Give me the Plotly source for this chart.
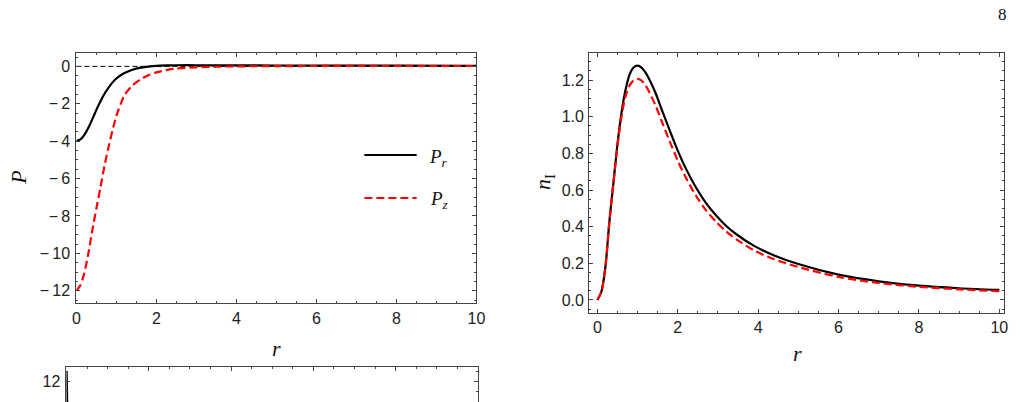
import plotly.graph_objects as go

# ---------------- data ----------------
r_P = [0, 0.1, 0.2, 0.3, 0.4, 0.5, 0.6, 0.7, 0.8, 0.9, 1.0, 1.2, 1.4, 1.6, 1.8,
       2.0, 2.25, 2.5, 3.0, 3.5, 4.0, 5.0, 6.0, 8.0, 10.0]
P_r = [-4.0, -3.91, -3.66, -3.28, -2.82, -2.33, -1.88, -1.48, -1.15, -0.87, -0.65,
       -0.36, -0.18, -0.07, -0.01, 0.03, 0.05, 0.06, 0.06, 0.055, 0.05, 0.045,
       0.04, 0.035, 0.03]
P_z = [-12.0, -11.7, -11.05, -10.0, -8.75, -7.6, -6.5, -5.35, -4.35, -3.45, -2.65,
       -1.55, -1.02, -0.7, -0.47, -0.32, -0.2, -0.12, -0.05, -0.02, -0.0, 0.01,
       0.02, 0.02, 0.02]
zero_x = [0, 10]
zero_y = [0, 0]

r_n = [0, 0.1, 0.2, 0.3, 0.4, 0.5, 0.6, 0.7, 0.8, 0.9, 1.0, 1.1, 1.2, 1.3, 1.45,
       1.6, 1.8, 2.0, 2.2, 2.45, 2.7, 2.95, 3.2, 3.45, 3.9, 4.4, 5.0, 6.0, 7.0,
       8.0, 9.0, 10.0]
n_black = [0, 0.045, 0.18, 0.43, 0.64, 0.85, 1.02, 1.145, 1.228, 1.268, 1.278,
           1.268, 1.24, 1.2, 1.128, 1.04, 0.925, 0.815, 0.718, 0.615, 0.53, 0.462,
           0.405, 0.36, 0.295, 0.243, 0.196, 0.138, 0.102, 0.078, 0.064, 0.055]
n_red = [0, 0.045, 0.18, 0.43, 0.64, 0.84, 1.0, 1.11, 1.17, 1.198, 1.206, 1.197,
         1.17, 1.13, 1.06, 0.975, 0.865, 0.76, 0.668, 0.57, 0.49, 0.428, 0.375,
         0.332, 0.27, 0.222, 0.18, 0.126, 0.093, 0.072, 0.058, 0.048]

# third (cut-off) panel
r_c = [0, 0.005, 0.01, 0.015]
c_vals = [12.48, 12.0, 11.5, 10.8]

# tick labels
P_ticks = [0, -2, -4, -6, -8, -10, -12]
P_ticktext = ["0", "−\u20092", "−\u20094", "−\u20096", "−\u20098", "−\u200910", "−\u200912"]
r_ticks = [0, 2, 4, 6, 8, 10]
r_ticktext = ["0", "2", "4", "6", "8", "10"]
n_ticks = [0.0, 0.2, 0.4, 0.6, 0.8, 1.0, 1.2]
n_ticktext = ["0.0", "0.2", "0.4", "0.6", "0.8", "1.0", "1.2"]
c_ticks = [12]
c_ticktext = ["12"]

# ---------------- styling ----------------
W, H = 1022, 402
FRAME = "#444444"
TICKFONT = dict(family="Liberation Sans", size=16, color="#222222")
LABELFONT = dict(family="Liberation Serif", size=22, color="#111111")

def px_x(p):
    return p / W

def px_y(p):
    return 1 - p / H

def axis(domain, rng, tickvals, ticktext, minor_dtick, standoff=4, **kw):
    d = dict(
        domain=domain, range=rng, showgrid=False, zeroline=False,
        showline=True, linecolor=FRAME, linewidth=1,
        mirror="ticks", ticks="inside", ticklen=4, tickwidth=1, tickcolor=FRAME,
        tickmode="array", tickvals=tickvals, ticktext=ticktext,
        tickfont=TICKFONT, ticklabelstandoff=standoff,
        minor=dict(tickmode="linear", tick0=0, dtick=minor_dtick, ticks="inside",
                   ticklen=2, tickwidth=1, tickcolor=FRAME, showgrid=False),
        fixedrange=True,
    )
    d.update(kw)
    return d

fig = go.Figure()

fig.add_trace(go.Scatter(x=zero_x, y=zero_y, mode="lines", xaxis="x", yaxis="y",
                         line=dict(color="black", width=1, dash="5px,3px"),
                         showlegend=False, hoverinfo="skip"))
fig.add_trace(go.Scatter(x=r_P, y=P_r, mode="lines", xaxis="x", yaxis="y",
                         line=dict(color="black", width=2.2, shape="spline", smoothing=0.6),
                         name="P_r", showlegend=False))
fig.add_trace(go.Scatter(x=r_P, y=P_z, mode="lines", xaxis="x", yaxis="y",
                         line=dict(color="#ff0000", width=2.2, dash="8px,4px",
                                   shape="spline", smoothing=0.6),
                         name="P_z", showlegend=False))

fig.add_trace(go.Scatter(x=r_n, y=n_black, mode="lines", xaxis="x2", yaxis="y2",
                         line=dict(color="black", width=2.2, shape="spline", smoothing=0.8),
                         showlegend=False))
fig.add_trace(go.Scatter(x=r_n, y=n_red, mode="lines", xaxis="x2", yaxis="y2",
                         line=dict(color="#ff0000", width=2.2, dash="8px,4px",
                                   shape="spline", smoothing=0.8),
                         showlegend=False))

fig.add_trace(go.Scatter(x=r_c, y=c_vals, mode="lines", xaxis="x3", yaxis="y3",
                         line=dict(color="black", width=2.5), showlegend=False))

layout = dict(
    width=W, height=H, autosize=False,
    margin=dict(l=0, r=0, t=0, b=0),
    paper_bgcolor="white", plot_bgcolor="white",
    xaxis=axis([px_x(73.3), px_x(478.5)], [0, 10], r_ticks, r_ticktext, 0.5,
               standoff=0, anchor="y"),
    yaxis=axis([px_y(303.3), px_y(52.7)], [-12.67, 0.73], P_ticks, P_ticktext, 0.5,
               standoff=2, anchor="x"),
    xaxis2=axis([px_x(592.7), px_x(1013)], [-0.204, 10.12], r_ticks, r_ticktext, 0.5,
                standoff=0, anchor="y2"),
    yaxis2=axis([px_y(313), px_y(52.7)], [-0.071, 1.349], n_ticks, n_ticktext, 0.05,
                standoff=1, anchor="x2"),
    xaxis3=axis([px_x(63.3), px_x(480)], [0, 10], r_ticks, r_ticktext, 0.5, anchor="y3",
                side="top", mirror=False, showticklabels=False),
    yaxis3=axis([0, px_y(367.3)], [10.985, 12.72], c_ticks, c_ticktext, 0.5,
                standoff=2, anchor="x3"),
    showlegend=False,
)
fig.update_layout(**layout)

SERIF = "Liberation Serif"
annotations = [
    dict(text="<i>P</i>", x=px_x(14), y=px_y(178), textangle=-90, font=LABELFONT),
    dict(text="<i>r</i>", x=px_x(276), y=px_y(348), font=LABELFONT),
    dict(text="<i>r</i>", x=px_x(804), y=px_y(353), font=LABELFONT),
    dict(text="<i>n</i><sub>I</sub>", x=px_x(547), y=px_y(182), textangle=-90, font=LABELFONT),
    dict(text="8", x=px_x(1011), y=px_y(15),
         font=dict(family=SERIF, size=17, color="#111111")),
    dict(text="<i>P</i><sub><i>r</i></sub>", x=px_x(440), y=px_y(158),
         font=dict(family=SERIF, size=19, color="#111111")),
    dict(text="<i>P</i><sub><i>z</i></sub>", x=px_x(441), y=px_y(200),
         font=dict(family=SERIF, size=19, color="#111111")),
]
for a in annotations:
    a.update(xref="paper", yref="paper", showarrow=False, xanchor="center", yanchor="middle")
fig.update_layout(annotations=annotations)

shapes = [
    dict(type="line", xref="paper", yref="paper", x0=px_x(365), x1=px_x(418),
         y0=px_y(155), y1=px_y(155), line=dict(color="black", width=2.2)),
    dict(type="line", xref="paper", yref="paper", x0=px_x(365), x1=px_x(418),
         y0=px_y(198), y1=px_y(198), line=dict(color="#ff0000", width=2.2, dash="8px,4px")),
]
fig.update_layout(shapes=shapes)

fig.write_html("out.html")
